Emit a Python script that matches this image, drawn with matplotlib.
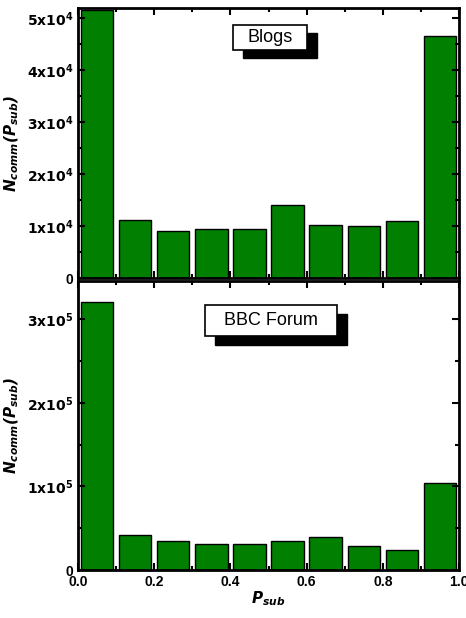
import matplotlib
matplotlib.use("Agg")
import matplotlib.pyplot as plt
from matplotlib.patches import Rectangle
from matplotlib.ticker import MultipleLocator, FuncFormatter

centers = [0.05, 0.15, 0.25, 0.35, 0.45, 0.55, 0.65, 0.75, 0.85, 0.95]
blogs = [5.16e4, 1.11e4, 0.91e4, 0.95e4, 0.95e4, 1.40e4, 1.03e4, 1.01e4, 1.09e4, 4.67e4]
bbc = [3.21e5, 0.42e5, 0.35e5, 0.31e5, 0.31e5, 0.35e5, 0.40e5, 0.29e5, 0.24e5, 1.04e5]
titles = ["Blogs", "BBC Forum"]

plt.rcParams['font.family'] = ['Liberation Sans', 'DejaVu Sans']
fig = plt.figure(figsize=(4.66, 6.18), dpi=100)
ax1 = fig.add_axes([78/466, 1-278/618, 381/466, 270/618])
ax2 = fig.add_axes([78/466, 1-570/618, 381/466, 289/618])

def sci(exp):
    def f(v, p):
        if v == 0:
            return "0"
        return r"$\mathbf{%dx10^{%d}}$" % (round(v / 10**exp), exp)
    return f

# box (x0, y0, w, h) in axes coords, shadow offset
boxes = [(0.407, 0.844, 0.194, 0.093, 0.026, 0.03),
         (0.333, 0.810, 0.347, 0.107, 0.026, 0.031)]

for ax, data, title, exp, ymax, bx in [(ax1, blogs, titles[0], 4, 5.2e4, boxes[0]),
                                        (ax2, bbc, titles[1], 5, 3.46e5, boxes[1])]:
    ax.bar(centers, data, width=0.085, color='#007f00', edgecolor='black', linewidth=1)
    ax.set_xlim(0, 1)
    ax.set_ylim(0, ymax)
    ax.xaxis.set_major_locator(MultipleLocator(0.2))
    ax.xaxis.set_minor_locator(MultipleLocator(0.1))
    ax.yaxis.set_major_locator(MultipleLocator(10**exp))
    ax.yaxis.set_minor_locator(MultipleLocator(10**exp / 2))
    ax.yaxis.set_major_formatter(FuncFormatter(sci(exp)))
    ax.tick_params(which='both', direction='in', top=True, right=True, width=1.5, labelsize=10)
    ax.tick_params(which='major', length=5)
    ax.tick_params(which='minor', length=3)
    for s in ax.spines.values():
        s.set_linewidth(2)
    ax.set_ylabel(r"$\mathbfit{N}_{\mathbfit{comm}}\mathbfit{(P}_{\mathbfit{sub}}\mathbfit{)}$", fontsize=11, labelpad=4)
    x0, y0, w, h, dx, dy = bx
    ax.add_patch(Rectangle((x0 + dx, y0 - dy), w, h, transform=ax.transAxes, fc='black', ec='black', zorder=4))
    ax.add_patch(Rectangle((x0, y0), w, h, transform=ax.transAxes, fc='white', ec='black', lw=1.2, zorder=5))
    ax.text(x0 + w / 2, y0 + h / 2, title, transform=ax.transAxes, fontsize=13, ha='center', va='center', zorder=6)

ax1.set_xticklabels([])
ax2.set_xlabel(r"$\mathbfit{P}_{\mathbfit{sub}}$", fontsize=11, labelpad=0)
for ax in (ax1, ax2):
    for t in ax.get_yticklabels() + ax.get_xticklabels():
        t.set_fontweight('bold')
fig.savefig("out.png", dpi=100)
